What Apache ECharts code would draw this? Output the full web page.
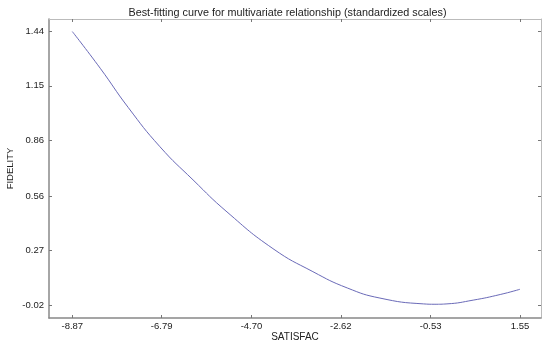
<!DOCTYPE html>
<html>
<head>
<meta charset="utf-8">
<style>html,body{margin:0;padding:0;background:#fff}#c{width:550px;height:343px}</style>
<script src="https://cdn.jsdelivr.net/npm/echarts@6/dist/echarts.min.js"></script>
</head>
<body>
<div id="c"></div>
<script>
// Tick labels
const xTicks = [-8.87, -6.79, -4.70, -2.62, -0.53, 1.55];
const yTicks = [-0.02, 0.27, 0.56, 0.86, 1.15, 1.44];
// Curve points (SATISFAC, FIDELITY)
const satisfac = [-8.87, -8.22, -7.57, -6.83, -6.06, -5.27, -4.20, -3.27, -2.47, -1.71, -0.70, -0.43, -0.15, 0.46, 1.09, 1.55];
const fidelity = [1.44, 1.244, 1.035, 0.825, 0.648, 0.477, 0.281, 0.158, 0.071, 0.017, -0.014, -0.016, -0.014, 0.006, 0.036, 0.064];

const chart = echarts.init(document.getElementById('c'), null, {renderer: 'canvas'});
const fnt = 'Liberation Sans, Arial, sans-serif';
const fmt = v => v.toFixed(2);
const tickStyle = {show: true, inside: true, length: 3, lineStyle: {color: '#777', width: 1}};
chart.setOption({
  animation: false,
  backgroundColor: '#fff',
  title: {
    text: 'Best-fitting curve for multivariate relationship (standardized scales)',
    left: 282.5, top: 3, textAlign: 'center',
    textStyle: {fontFamily: fnt, fontSize: 10.8, fontWeight: 'normal', color: '#222'}
  },
  grid: {left: 49, right: 9, top: 19, bottom: 25, show: false, containLabel: false, outerBoundsMode: 'none'},
  xAxis: [{
    type: 'value', position: 'bottom', min: -9.4125, max: 2.039,
    name: 'SATISFAC', nameLocation: 'middle', nameGap: 14, nameMoveOverlap: false,
    nameTextStyle: {fontFamily: fnt, fontSize: 10, color: '#222'},
    axisLine: {show: true, onZero: false, lineStyle: {color: '#888', width: 1.5}},
    axisTick: Object.assign({customValues: xTicks}, tickStyle),
    axisLabel: {customValues: xTicks, formatter: fmt, margin: 3, fontFamily: fnt, fontSize: 9.5, color: '#222'},
    splitLine: {show: false}
  }, {
    type: 'value', position: 'top', min: -9.4125, max: 2.039,
    axisLine: {show: true, onZero: false, lineStyle: {color: '#bbb', width: 1}},
    axisTick: Object.assign({customValues: xTicks}, tickStyle),
    axisLabel: {show: false}, splitLine: {show: false}
  }],
  yAxis: [{
    type: 'value', position: 'left', min: -0.0894, max: 1.507,
    name: 'FIDELITY', nameLocation: 'middle', nameGap: 34, nameMoveOverlap: false,
    nameTextStyle: {fontFamily: fnt, fontSize: 9.5, color: '#222'},
    axisLine: {show: true, onZero: false, lineStyle: {color: '#888', width: 1.5}},
    axisTick: Object.assign({customValues: yTicks}, tickStyle),
    axisLabel: {customValues: yTicks, formatter: fmt, margin: 5, fontFamily: fnt, fontSize: 9.5, color: '#222'},
    splitLine: {show: false}
  }, {
    type: 'value', position: 'right', min: -0.0894, max: 1.507,
    axisLine: {show: true, onZero: false, lineStyle: {color: '#bbb', width: 1}},
    axisTick: Object.assign({customValues: yTicks}, tickStyle),
    axisLabel: {show: false}, splitLine: {show: false}
  }],
  series: [{
    type: 'line', xAxisIndex: 0, yAxisIndex: 0,
    data: satisfac.map((x, i) => [x, fidelity[i]]),
    smooth: true, showSymbol: false, symbol: 'none',
    lineStyle: {color: '#6a6ab8', width: 1}
  }]
});
</script>
</body>
</html>
